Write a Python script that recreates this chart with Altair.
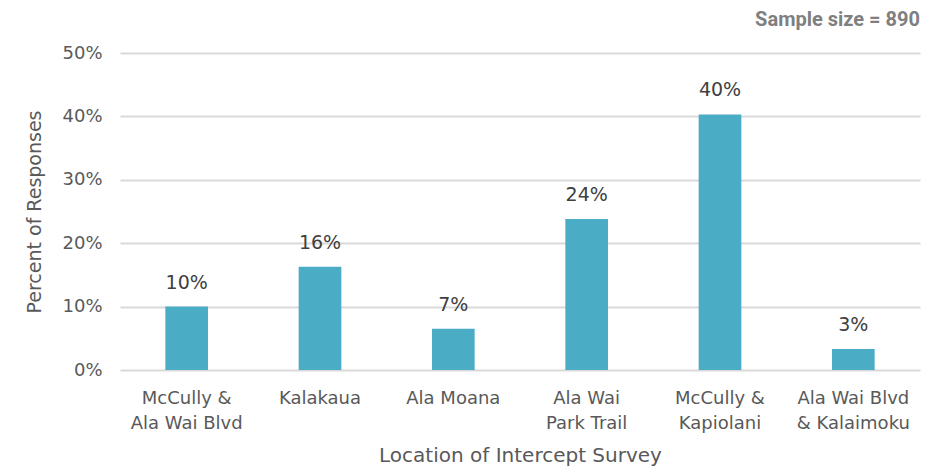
import altair as alt
import pandas as pd

categories = ["McCully &|Ala Wai Blvd", "Kalakaua", "Ala Moana", "Ala Wai|Park Trail",
              "McCully &|Kapiolani", "Ala Wai Blvd|& Kalaimoku"]
values = [0.100, 0.163, 0.065, 0.238, 0.403, 0.033]
y_ticks = [0.0, 0.1, 0.2, 0.3, 0.4, 0.5]

df = pd.DataFrame({"cat": categories, "val": values})

FONT = "DejaVu Sans"
GREY = "#595959"

base = alt.Chart(df).encode(
    x=alt.X("cat:N", sort=categories,
            scale=alt.Scale(paddingInner=0.68, paddingOuter=0.34),
            axis=alt.Axis(title="Location of Intercept Survey", labelAngle=0,
                          labelExpr="split(datum.label, '|')",
                          labelFontSize=18, labelColor=GREY, labelFont=FONT,
                          labelLineHeight=25, labelPadding=19, labelBaseline="top",
                          titleFontSize=20, titleColor=GREY, titleFont=FONT,
                          titleFontWeight="normal", titlePadding=13,
                          ticks=False, domain=False, grid=False)),
    y=alt.Y("val:Q", scale=alt.Scale(domain=[0, 0.5]),
            axis=alt.Axis(title="Percent of Responses", format=".0%", values=y_ticks,
                          labelFontSize=18, labelColor=GREY, labelFont=FONT,
                          labelPadding=18,
                          titleFontSize=19, titleColor=GREY, titleFont=FONT,
                          titleFontWeight="normal", titlePadding=17,
                          ticks=False, domain=False, grid=True,
                          gridColor="#d9d9d9", gridWidth=2)),
)

bars = base.mark_bar(color="#4bacc6")
labels = base.mark_text(dy=-14, fontSize=19, font=FONT, color="#404040",
                        baseline="bottom").encode(text=alt.Text("val:Q", format=".0%"))

chart = (bars + labels).properties(
    width=800, height=317,
    autosize=alt.AutoSizeParams(type="none"),
    padding={"left": 112, "top": 45, "right": 15, "bottom": 100},
    title=alt.TitleParams("Sample size = 890", anchor="end", fontSize=20,
                          fontWeight="bold", color="#7f7f7f",
                          font="Roboto", offset=14),
).configure_view(stroke=None)

chart.save("out.html", embed_options={"renderer": "svg", "actions": False})
